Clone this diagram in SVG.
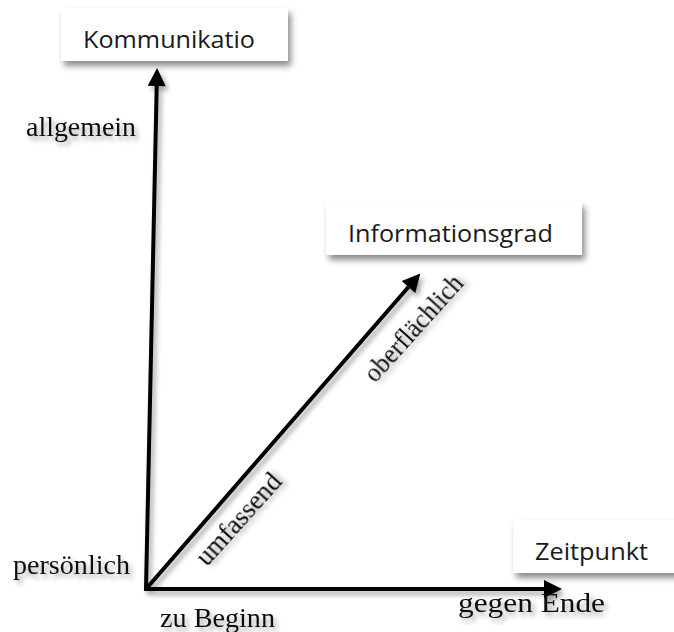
<svg xmlns="http://www.w3.org/2000/svg" width="674" height="632" viewBox="0 0 674 632">
<defs>
<filter id="boxsh" x="-10%" y="-20%" width="130%" height="160%">
<feDropShadow dx="3" dy="5" stdDeviation="3" flood-color="#000" flood-opacity="0.45"/>
</filter>
<filter id="sh" x="-20%" y="-20%" width="140%" height="140%">
<feDropShadow dx="3" dy="4" stdDeviation="2.5" flood-color="#000" flood-opacity="0.35"/>
</filter>
<marker id="ah" markerUnits="userSpaceOnUse" markerWidth="18" markerHeight="18" refX="0" refY="0" viewBox="0 -8 16 16" orient="auto" overflow="visible">
<path d="M0,-8 L16,0 L0,8 z" fill="#000"/>
</marker>
</defs>
<style>
.box{fill:#fff;filter:url(#boxsh)}
.lbl{font-family:"Open Sans","Noto Sans","Liberation Sans",sans-serif;font-size:24px;fill:#1a1a1a}
.ser{font-family:"Liberation Serif","DejaVu Serif",serif;font-size:28px;fill:#111;filter:url(#sh)}
.ax{stroke:#000;stroke-width:4;fill:none;marker-end:url(#ah)}
</style>
<rect width="674" height="632" fill="#fff"/>
<g id="connectors" filter="url(#sh)">
<line class="ax" x1="146" y1="589" x2="156.7" y2="86"/>
<line class="ax" x1="144" y1="589" x2="544" y2="589"/>
<line class="ax" x1="146" y1="589" x2="408.5" y2="287"/>
</g>
<g id="node-kommunikation">
<rect class="box" x="61" y="8" width="227" height="53"/>
<text class="lbl" x="83" y="48" textLength="172" lengthAdjust="spacingAndGlyphs">Kommunikatio</text>
</g>
<g id="node-informationsgrad">
<rect class="box" x="326" y="202" width="256" height="53"/>
<text class="lbl" x="348" y="242" textLength="205" lengthAdjust="spacingAndGlyphs">Informationsgrad</text>
</g>
<g id="node-zeitpunkt">
<rect class="box" x="513" y="520" width="165" height="53"/>
<text class="lbl" x="535" y="560" textLength="113" lengthAdjust="spacingAndGlyphs">Zeitpunkt</text>
</g>
<g id="labels">
<text class="ser" x="26" y="136" textLength="110" lengthAdjust="spacingAndGlyphs">allgemein</text>
<text class="ser" x="13" y="574" textLength="117" lengthAdjust="spacingAndGlyphs">persönlich</text>
<text class="ser" x="160" y="627" textLength="115" lengthAdjust="spacingAndGlyphs">zu Beginn</text>
<text class="ser" x="458" y="612" textLength="147" lengthAdjust="spacingAndGlyphs">gegen Ende</text>
<text class="ser" x="245" y="525" text-anchor="middle" textLength="114" lengthAdjust="spacingAndGlyphs" transform="rotate(-48 245 525)">umfassend</text>
<text class="ser" x="420" y="334" text-anchor="middle" textLength="134" lengthAdjust="spacingAndGlyphs" transform="rotate(-48 420 334)">oberflächlich</text>
</g>
</svg>
